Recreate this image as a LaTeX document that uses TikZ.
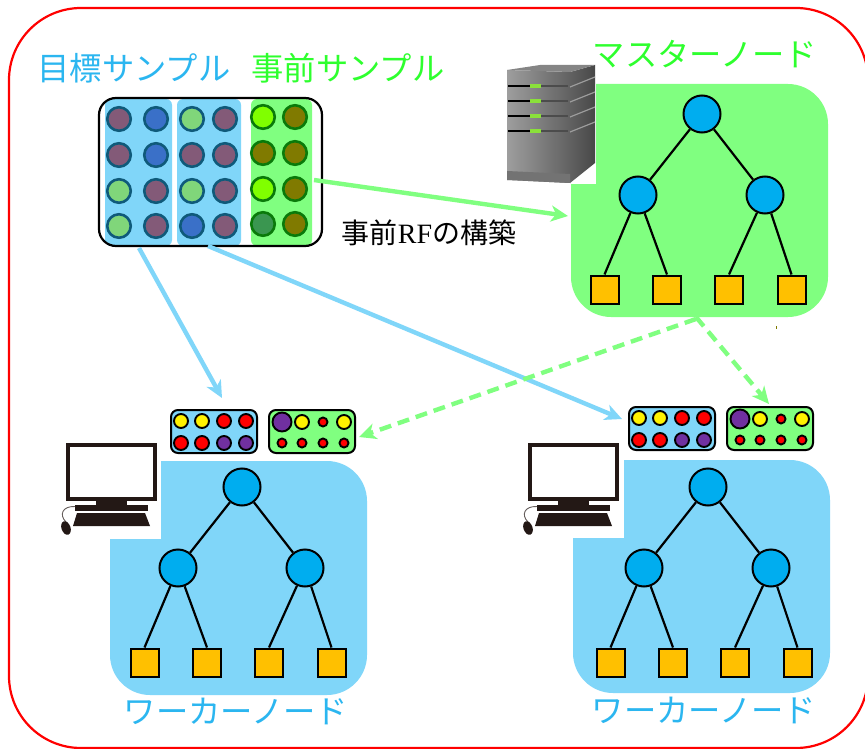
\documentclass[tikz,border=0pt]{standalone}
\usepackage{fontspec}
\setmainfont{Liberation Serif}
\newfontfamily\cjk{Noto Sans CJK JP}
\usetikzlibrary{arrows.meta}
\definecolor{paleblue}{HTML}{80D6F9}
\definecolor{palegreen}{HTML}{80FF80}
\definecolor{txtblue}{HTML}{2BB6F0}
\definecolor{txtgreen}{HTML}{2EFF2E}
\definecolor{treeblue}{HTML}{00ADEF}
\definecolor{leafyellow}{HTML}{FFC000}
\definecolor{mauve}{HTML}{835A78}
\definecolor{midblue}{HTML}{3A70C8}
\definecolor{lightgr}{HTML}{80D67A}
\definecolor{lime}{HTML}{80FF00}
\definecolor{olive2}{HTML}{807A00}
\definecolor{darkgr}{HTML}{3A9650}
\definecolor{ringb}{HTML}{0F5A7A}
\definecolor{ringg}{HTML}{0A7A0A}
\definecolor{pcblack}{HTML}{231815}
\definecolor{purp}{HTML}{7030A0}
\definecolor{led}{HTML}{8AE03A}
\tikzset{
  x=1pt,y=-1pt,
  rootn/.style={circle,draw=black,line width=2pt,fill=treeblue,minimum size=37pt,inner sep=0pt},
  leafn/.style={rectangle,draw=black,line width=2pt,fill=leafyellow,minimum size=28pt,inner sep=0pt},
  edgeline/.style={draw=black,line width=2.2pt},
  title/.style={font=\cjk\fontsize{32.3}{33}\selectfont,inner sep=0pt},
  sampb/.style={circle,draw=ringb,line width=2.6pt,minimum size=23.5pt,inner sep=0pt},
  sampg/.style={circle,draw=ringg,line width=2.6pt,minimum size=23.5pt,inner sep=0pt},
  dot/.style={circle,draw=black,line width=1.9pt,inner sep=0pt,minimum size=#1},
  bigarrow/.style={line width=4.4pt,-{Stealth[length=17pt,width=16pt,inset=5pt]}},
  panelbox/.style={rounded corners=7pt,draw=black,line width=2pt},
}
\newcommand{\mktree}[3]{%
  \begin{scope}[shift={(#2,#3)}]
    \node[rootn] (#1r) at (0,0) {};
    \node[rootn] (#1a) at (-64,81) {};
    \node[rootn] (#1b) at (63,81) {};
    \node[leafn] (#1p) at (-97.5,175.5) {};
    \node[leafn] (#1q) at (-35,175.5) {};
    \node[leafn] (#1s) at (27,175.5) {};
    \node[leafn] (#1t) at (89.5,175.5) {};
    \draw[edgeline] (#1r)--(#1a) (#1r)--(#1b) (#1a)--(#1p.north) (#1a)--(#1q.north) (#1b)--(#1s.north) (#1b)--(#1t.north);
  \end{scope}}
\newcommand{\mkpanels}[3]{%
  \begin{scope}[shift={(#2,#3)}]
    \node[panelbox,fill=paleblue,minimum width=86pt,minimum height=43pt,inner sep=0pt] (#1bb) at (214,431.5) {};
    \node[panelbox,fill=palegreen,minimum width=86pt,minimum height=43pt,inner sep=0pt] (#1gb) at (312,431.5) {};
    \foreach \px/\py/\pc/\ps/\pn in {181/421/yellow/14pt/a,202/421/yellow/14pt/b,224/421/red/14pt/c,246/421/red/14pt/d,
      181/443/red/14pt/e,202/443/red/14pt/f,224/443/purp/14pt/g,246/443/purp/14pt/h,
      282/422/purp/19pt/i,302/422/yellow/14pt/j,323/422/red/9pt/k,344/422/yellow/14pt/l,
      282/443/red/9pt/m,302/443/red/9pt/n,323/443/red/9pt/o,344/443/red/9pt/p}
      \node[dot=\ps,fill=\pc] (#1\pn) at (\px,\py) {};
  \end{scope}}
\newcommand{\mkpc}[3]{%
  \begin{scope}[shift={(#2,#3)}]
    \node[draw=pcblack,line width=4pt,fill=white,minimum width=87pt,minimum height=54pt,inner sep=0pt] (#1m) at (111.5,472) {};
    \fill[pcblack] (96,501) rectangle (127,505);
    \fill[pcblack] (75,505) rectangle (148,511);
    \fill[pcblack] (77,513) -- (145,513) -- (150,526) -- (73,526) -- cycle;
    \draw[pcblack!70,line width=0.9pt] (75,506.5) .. controls (62,506) and (59,515) .. (66,522);
    \fill[pcblack,rotate around={20:(66,528)}] (66,528) ellipse [x radius=4.5,y radius=7];
  \end{scope}}
\begin{document}
\begin{tikzpicture}
\useasboundingbox (0,0) rectangle (865,749);
\fill[white] (0,0) rectangle (865,749);
% outer frame
\draw[red,line width=2.2pt,rounded corners=72pt] (9,8) rectangle (868,748);
% panels
\fill[palegreen] (596,84) -- (788,84) .. controls (810,84) and (828,102) .. (828,124) -- (828,277)
  .. controls (828,299) and (810,317) .. (788,317) -- (611,317) .. controls (589,317) and (571,299) .. (571,277)
  -- (571,184) -- (596,184) -- cycle;
\fill[paleblue] (161,461) -- (327,461) .. controls (349,461) and (367,479) .. (367,501) -- (367,655)
  .. controls (367,677) and (349,695) .. (327,695) -- (150,695) .. controls (128,695) and (110,677) .. (110,655)
  -- (110,539) -- (161,539) -- cycle;
\fill[paleblue] (624,460) -- (790,460) .. controls (812,460) and (830,478) .. (830,500) -- (830,653)
  .. controls (830,675) and (812,693) .. (790,693) -- (613,693) .. controls (591,693) and (573,675) .. (573,653)
  -- (573,538) -- (624,538) -- cycle;
% server
\shade[left color=black!38,right color=black!62] (507,70) -- (570,72) -- (570,183) -- (507,180) -- cycle;
\shade[left color=black!62,right color=black!72] (570,72) -- (595,65) -- (595,163) -- (570,183) -- cycle;
\fill[black!48] (507,70) -- (540,65) -- (595,65) -- (570,72) -- cycle;
\fill[black!55] (507,171) -- (570,174) -- (570,183) -- (507,180) -- cycle;
\foreach \sy in {86,101,116,131}{
  \fill[black] (508,\sy-1) rectangle (530,\sy+1.2);
  \fill[black!70] (530,\sy-1) rectangle (568,\sy+1.2);
  \fill[led] (530,\sy-2) rectangle (541,\sy+2);
  \draw[black!38,line width=1.2pt] (570,\sy+1) -- (595,\sy-9);
}
% sample box
\fill[paleblue,rounded corners=6pt] (105,99) rectangle (172,246);
\fill[paleblue,rounded corners=6pt] (177,99) rectangle (241,246);
\fill[palegreen,rounded corners=6pt] (251,99) rectangle (312,246);
\node[draw=black,line width=2.2pt,rounded corners=17pt,minimum width=223pt,minimum height=148pt,inner sep=0pt] (samples) at (210.5,172) {};
\foreach \sx/\sy/\sc/\sn in {119/119/mauve/a,156/119/midblue/b,192/119/lightgr/c,225/119/mauve/d,
  119/155/mauve/e,156/155/midblue/f,192/155/mauve/g,225/155/mauve/h,
  119/191/lightgr/i,156/191/mauve/j,192/191/lightgr/k,225/191/mauve/l,
  119/226/lightgr/m,156/226/mauve/n,192/226/midblue/o,225/226/mauve/p}
  \node[sampb,fill=\sc] (s\sn) at (\sx,\sy) {};
\foreach \sx/\sy/\sc/\sn in {263/117/lime/a,295/117/olive2/b,263/153/olive2/c,295/153/olive2/d,
  263/189/lime/e,295/189/olive2/f,263/224/darkgr/g,295/224/olive2/h}
  \node[sampg,fill=\sc] (g\sn) at (\sx,\sy) {};
% trees
\mktree{m}{702}{114}
\mktree{u}{242}{487}
\mktree{v}{708}{487}
% small panels
\mkpanels{x}{0}{0}
\mkpanels{y}{458}{-3}
% computers
\mkpc{c}{0}{0}
\mkpc{d}{462}{0}
% arrow ends
\coordinate (a1s) at (314,180);
\coordinate (a1e) at (568,216);
\coordinate (a2s) at (139,248);
\coordinate (a2e) at (222,398);
\coordinate (a3s) at (208,246);
\coordinate (a3e) at (622,419);
\coordinate (a4s) at (696,319);
\coordinate (a4e) at (359,437);
\coordinate (a5s) at (696,317);
\coordinate (a5e) at (769,404);
\draw[bigarrow,palegreen] (a1s) -- (a1e);
\draw[bigarrow,paleblue] (a2s) -- (a2e);
\draw[bigarrow,paleblue] (a3s) -- (a3e);
\draw[bigarrow,palegreen,dash pattern=on 12pt off 7pt] (a4s) -- (a4e);
\draw[bigarrow,palegreen,dash pattern=on 12pt off 7pt] (a5s) -- (a5e);
\fill[olive2] (775.5,326) rectangle (777,329);
% labels
\node[title,text=txtblue] (t1) at (134,68) {目標サンプル};
\node[title,text=txtgreen] (t2) at (348,68) {事前サンプル};
\node[title,text=txtgreen] (t3) at (705,54) {マスターノード};
\node[title,text=txtblue] (t4) at (236,711) {ワーカーノード};
\node[title,text=txtblue] (t5) at (704,710) {ワーカーノード};
\node[inner sep=0pt,font=\fontsize{28}{28}\selectfont] (t6) at (429,233) {{\cjk 事前}RF{\cjk の構築}};
\end{tikzpicture}
\end{document}
